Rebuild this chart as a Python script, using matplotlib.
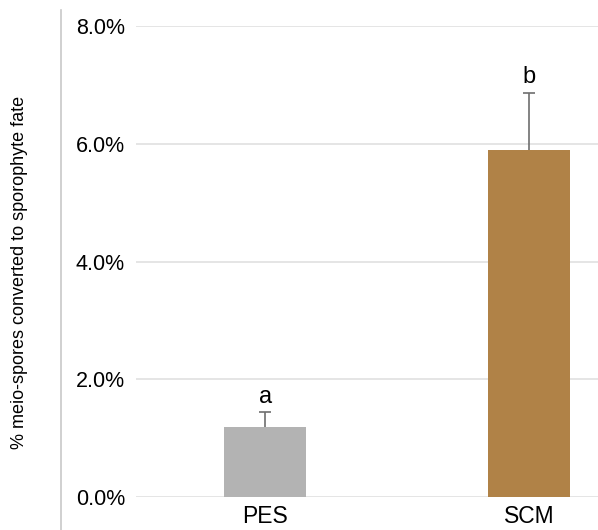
import matplotlib
matplotlib.use("Agg")
import matplotlib.pyplot as plt
from matplotlib.lines import Line2D

# datos
grupos = ["PES", "SCM"]
valores = [1.19, 5.89]        # % meio-spores
errores = [0.25, 0.98]
letras = ["a", "b"]
colores = ["#b3b3b3", "#b08247"]
yticks = [0, 2, 4, 6, 8]

plt.rcParams['font.family'] = ['Liberation Sans Narrow', 'Liberation Sans', 'DejaVu Sans']

fig = plt.figure(figsize=(5.98, 5.30), dpi=100)
ax = fig.add_axes([136/598, 1-497/530, 1-136/598, (497-26)/530])

x = list(range(len(grupos)))
ax.bar(x, valores, width=0.31, color=colores, zorder=3)
# solo la barra de error superior
for xi, v, e, l in zip(x, valores, errores, letras):
    ax.vlines(xi, v, v + e, color="#6e6e6e", lw=1.2, zorder=4)
    ax.hlines(v + e, xi - 0.023, xi + 0.023, color="#6e6e6e", lw=1.2, zorder=4)
    ax.text(xi, v + e + 0.08, l, ha="center", va="bottom", fontsize=17)

ax.set_xlim(-0.49, 1.26)
ax.set_ylim(0, 8)
ax.set_yticks(yticks)
ax.set_yticklabels(["%.1f%%" % t for t in yticks], fontsize=15.5)
ax.set_xticks(x)
ax.set_xticklabels(grupos, fontsize=16.5)
ax.tick_params(length=0, pad=8)
ax.tick_params(axis="x", pad=6)
ax.yaxis.grid(True, color="#e0e0e0", linewidth=1.2, zorder=0)
ax.set_axisbelow(True)
for s in ax.spines.values():
    s.set_visible(False)

# linea vertical del eje izquierdo
fig.add_artist(Line2D([61/598, 61/598], [0, 1-10/530], color="#c8c8c8", lw=1.2))
fig.text(20/598, 1-272/530, "% meio-spores converted to sporophyte fate",
         rotation=90, ha="center", va="center", fontsize=13)

fig.savefig("out.png", dpi=100)
